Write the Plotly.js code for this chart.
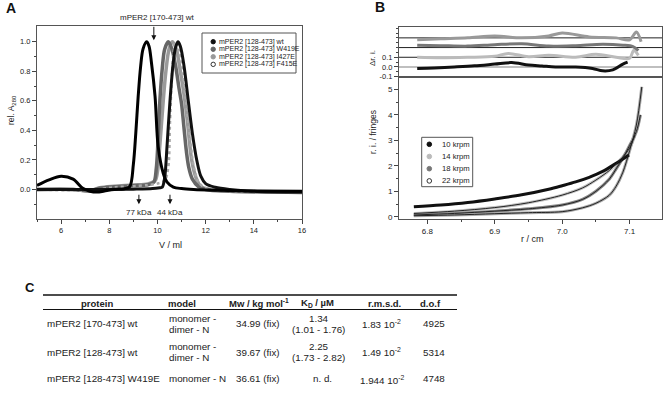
<!DOCTYPE html>
<html>
<head>
<meta charset="utf-8">
<script src="https://cdn.plot.ly/plotly-3.0.1.min.js"></script>
<style>html,body{margin:0;padding:0;background:#fff}</style>
</head>
<body>
<div id="chart" style="width:669px;height:415px"></div>
<script>
// A: SEC elution profiles (V / ml vs rel. A280)
var volWt170 = [5, 5.5, 6.0, 6.5, 6.9, 7.2, 7.5, 7.8, 8.2, 8.6, 8.85, 9.0, 9.1, 9.2, 9.3, 9.4, 9.55, 9.65, 9.75, 9.9, 10.03, 10.24, 10.4, 10.66, 11.0, 11.5, 12.5, 14, 16];
var absWt170 = [0.027, 0.065, 0.09, 0.07, 0.008, -0.012, -0.018, -0.01, 0.0, 0.003, 0.02, 0.17, 0.38, 0.63, 0.83, 0.95, 1.0, 0.97, 0.86, 0.63, 0.29, 0.11, 0.05, 0.016, 0.006, 0.0, -0.005, -0.01, -0.012];

var vol128wt = [5, 7, 8, 9, 9.8, 10.1, 10.2, 10.3, 10.4, 10.52, 10.65, 10.75, 10.85, 10.95, 11.1, 11.28, 11.45, 11.63, 11.8, 12.0, 12.4, 13, 14, 16];
var abs128wt = [0.0, 0.0, 0.0, 0.002, 0.006, 0.012, 0.015, 0.08, 0.3, 0.6, 0.85, 0.96, 1.0, 0.97, 0.84, 0.6, 0.38, 0.2, 0.09, 0.04, 0.015, 0.0, -0.012, -0.018];

var volW419E = [5, 6.5, 7.2, 7.6, 8.2, 9.0, 9.6, 9.85, 9.95, 10.02, 10.1, 10.2, 10.3, 10.45, 10.6, 10.75, 10.9, 11.0, 11.1, 11.2, 11.3, 11.45, 11.7, 12.0, 13, 16];
var absW419E = [0.0, 0.0, -0.01, 0.008, 0.018, 0.025, 0.032, 0.05, 0.14, 0.32, 0.6, 0.82, 0.95, 1.0, 0.95, 0.84, 0.68, 0.58, 0.42, 0.26, 0.15, 0.07, 0.02, 0.0, -0.012, -0.02];

var volI427E = [5, 6.5, 7.2, 7.6, 8.2, 9.0, 9.6, 9.9, 10.0, 10.1, 10.24, 10.35, 10.48, 10.62, 10.78, 10.95, 11.05, 11.14, 11.25, 11.42, 11.6, 11.8, 12.2, 13, 16];
var absI427E = [0.0, 0.0, -0.008, 0.012, 0.022, 0.03, 0.038, 0.06, 0.12, 0.3, 0.6, 0.8, 0.95, 1.0, 0.95, 0.8, 0.7, 0.6, 0.45, 0.2, 0.08, 0.02, 0.0, -0.01, -0.015];

var volF415E = [5, 7.2, 8.2, 9.0, 9.6, 10.0, 10.3, 10.45, 10.52, 10.58, 10.65, 10.75, 10.9, 11.05, 11.2, 11.35, 11.5, 11.7, 12.0, 13, 16];
var absF415E = [0.0, -0.005, 0.015, 0.022, 0.03, 0.04, 0.06, 0.15, 0.45, 0.7, 0.9, 1.0, 0.93, 0.78, 0.58, 0.35, 0.16, 0.05, 0.01, -0.01, -0.015];

var seriesA = ['mPER2 [128-473] wt', 'mPER2 [128-473] W419E', 'mPER2 [128-473] I427E', 'mPER2 [128-473] F415E'];
var standardVol = [9.23, 10.52];
var standardLabel = ['77 kDa', '44 kDa'];

// B: sedimentation equilibrium (r / cm vs fringes) and residuals
var speedsB = ['10 krpm', '14 krpm', '18 krpm', '22 krpm'];

var r10 = [6.78, 6.82, 6.86, 6.9, 6.94, 6.98, 7.0, 7.02, 7.04, 7.06, 7.08, 7.099];
var ri10 = [0.39, 0.46, 0.56, 0.70, 0.86, 1.08, 1.22, 1.37, 1.55, 1.78, 2.1, 2.43];
var r14 = [6.78, 6.84, 6.9, 6.95, 7.0, 7.03, 7.05, 7.07, 7.08, 7.09, 7.1, 7.108];
var ri14 = [0.13, 0.22, 0.36, 0.55, 0.85, 1.13, 1.44, 1.82, 2.08, 2.35, 2.7, 3.2];
var r18 = [6.78, 6.84, 6.9, 6.95, 7.0, 7.03, 7.05, 7.07, 7.08, 7.09, 7.1, 7.11, 7.116];
var ri18 = [0.07, 0.13, 0.22, 0.31, 0.46, 0.68, 1.0, 1.48, 1.88, 2.3, 2.8, 3.35, 4.0];
var r22 = [6.78, 6.84, 6.9, 6.95, 7.0, 7.03, 7.05, 7.07, 7.08, 7.09, 7.1, 7.11, 7.118];
var ri22 = [0.04, 0.07, 0.12, 0.16, 0.2, 0.35, 0.53, 0.85, 1.2, 1.75, 2.6, 3.6, 5.1];

var res10r = [6.785, 6.81, 6.84, 6.87, 6.9, 6.925, 6.95, 6.97, 6.99, 7.02, 7.045, 7.06, 7.075, 7.09, 7.097];
var res10 = [-0.015, -0.01, 0.0, 0.012, 0.03, 0.045, 0.02, 0.01, 0.0, 0.0, -0.015, -0.04, -0.03, 0.03, 0.05];
var res14r = [6.785, 6.82, 6.86, 6.9, 6.92, 6.95, 6.98, 7.02, 7.05, 7.08, 7.1, 7.106, 7.113];
var res14 = [0.1, 0.095, 0.1, 0.11, 0.14, 0.105, 0.12, 0.1, 0.13, 0.1, 0.09, 0.17, 0.12];
var res18r = [6.785, 6.82, 6.86, 6.9, 6.94, 6.98, 7.02, 7.06, 7.09, 7.105, 7.113];
var res18 = [0.225, 0.22, 0.215, 0.23, 0.24, 0.215, 0.22, 0.235, 0.225, 0.21, 0.17];
var res22r = [6.785, 6.82, 6.86, 6.9, 6.94, 6.98, 7.0, 7.04, 7.08, 7.1, 7.11, 7.117];
var res22 = [0.28, 0.29, 0.3, 0.32, 0.3, 0.32, 0.35, 0.31, 0.3, 0.28, 0.36, 0.26];
var residualLines = [0.1, 0.2, 0.3];

// C: table
var tableHeader = ['protein', 'model', 'Mw / kg mol<sup>-1</sup>', 'K<sub>D</sub> / µM', 'r.m.s.d.', 'd.o.f'];
var proteins = ['mPER2 [170-473] wt', 'mPER2 [128-473] wt', 'mPER2 [128-473] W419E'];
var modelLine1 = ['monomer -', 'monomer -', 'monomer - N'];
var modelLine2 = ['dimer - N', 'dimer - N', ''];
var mwValues = ['34.99 (fix)', '39.67 (fix)', '36.61 (fix)'];
var kdValues = ['1.34', '2.25', 'n. d.'];
var kdRanges = ['(1.01 - 1.76)', '(1.73 - 2.82)', ''];
var rmsdValues = ['1.83 10<sup>-2</sup>', '1.49 10<sup>-2</sup>', '1.944 10<sup>-2</sup>'];
var dofValues = ['4925', '5314', '4748'];

var W = 669, H = 415;
var FONT = 'Liberation Sans, Arial, sans-serif';
function px(x){ return x / W; }
function py(y){ return 1 - y / H; }

function curve(x, y, color, width, dash, xa, ya){
  return {x: x, y: y, mode: 'lines', xaxis: xa, yaxis: ya, hoverinfo: 'skip',
          line: {color: color, width: width, dash: dash || 'solid', shape: 'spline', smoothing: 0.9}};
}

var data = [
  curve(volI427E, absI427E, '#9a9a9a', 3.5, null, 'x', 'y'),
  curve(volW419E, absW419E, '#666', 3.5, null, 'x', 'y'),
  curve(volF415E, absF415E, '#aaa', 2.5, 'dot', 'x', 'y'),
  curve(vol128wt, abs128wt, '#111', 3, null, 'x', 'y'),
  curve(volWt170, absWt170, '#000', 3, null, 'x', 'y'),

  curve(res10r, res10, '#111', 3, null, 'x2', 'y2'),
  curve(res14r, res14, '#bbb', 3, null, 'x2', 'y2'),
  curve(res18r, res18, '#777', 3, null, 'x2', 'y2'),
  curve(res22r, res22, '#999', 3, null, 'x2', 'y2'),

  curve(r14, ri14, '#c0c0c0', 3, null, 'x3', 'y3'),
  curve(r18, ri18, '#888', 3, null, 'x3', 'y3'),
  curve(r22, ri22, '#aaa', 3, null, 'x3', 'y3'),
  curve(r10, ri10, '#111', 3, null, 'x3', 'y3'),
  curve(r14, ri14, '#222', 1, null, 'x3', 'y3'),
  curve(r18, ri18, '#222', 1, null, 'x3', 'y3'),
  curve(r22, ri22, '#222', 1, null, 'x3', 'y3')
];

var axisBase = {showline: true, mirror: true, linecolor: '#555', linewidth: 1, showgrid: false,
                zeroline: false, ticks: 'outside', ticklen: 4, tickcolor: '#444', tickfont: {size: 7.5}};
function ax(extra){ return Object.assign({}, axisBase, extra); }

var layout = {
  width: W, height: H, margin: {l: 0, r: 0, t: 0, b: 0},
  paper_bgcolor: '#fff', plot_bgcolor: '#fff', showlegend: false,
  font: {family: FONT, size: 8, color: '#222'},
  xaxis: ax({domain: [px(37), px(302)], range: [5, 16], anchor: 'y', tickvals: [6, 8, 10, 12, 14, 16],
             minor: {tickvals: [5, 7, 9, 11, 13, 15], ticks: 'outside', ticklen: 2, tickcolor: '#444'}}),
  yaxis: ax({domain: [py(219), py(26)], range: [-0.2, 1.107], anchor: 'x', tickvals: [0, 0.2, 0.4, 0.6, 0.8, 1.0],
             tickformat: '.1f', minor: {tickvals: [-0.1, 0.1, 0.3, 0.5, 0.7, 0.9], ticks: 'outside', ticklen: 2, tickcolor: '#444'}}),
  xaxis2: ax({domain: [px(399), px(662)], range: [6.758, 7.148], anchor: 'y2', ticks: '', showticklabels: false}),
  yaxis2: ax({domain: [py(76.7), py(26.7)], range: [-0.1, 0.415], anchor: 'x2', tickvals: [-0.1, 0, 0.1],
              ticktext: ['-0.1', '0.0', '0.1'],
              minor: {tickvals: [-0.05, 0.05, 0.15, 0.2, 0.25, 0.3, 0.35, 0.4], ticks: 'outside', ticklen: 2, tickcolor: '#444'}}),
  xaxis3: ax({domain: [px(399), px(662)], range: [6.758, 7.148], anchor: 'y3', tickvals: [6.8, 6.9, 7.0, 7.1],
              tickformat: '.1f', tickfont: {size: 8},
              minor: {tickvals: [6.85, 6.95, 7.05], ticks: 'outside', ticklen: 2, tickcolor: '#444'}}),
  yaxis3: ax({domain: [py(219.3), py(76.7)], range: [-0.1, 5.5], anchor: 'x3', tickvals: [0, 1, 2, 3, 4, 5],
              tickfont: {size: 8},
              minor: {tickvals: [0.5, 1.5, 2.5, 3.5, 4.5], ticks: 'outside', ticklen: 2, tickcolor: '#444'}}),
  shapes: [],
  annotations: []
};

// residual reference lines
residualLines.forEach(function(v){
  layout.shapes.push({type: 'line', xref: 'x2 domain', yref: 'y2', x0: 0, x1: 1, y0: v, y1: v,
                      line: {color: '#222', width: 1}, layer: 'below'});
});
layout.shapes.push({type: 'line', xref: 'x2 domain', yref: 'y2', x0: 0, x1: 1, y0: 0, y1: 0,
                    line: {color: '#aaa', width: 1.5}, layer: 'below'});

function note(x, y, text, size, extra){
  layout.annotations.push(Object.assign({x: px(x), y: py(y), xref: 'paper', yref: 'paper', text: text,
    xanchor: 'center', yanchor: 'middle', showarrow: false,
    font: {size: size, family: FONT, color: '#222'}}, extra || {}));
}

// panel letters and axis titles
var letterFont = {size: 14, family: FONT, color: '#111'};
note(11, 8, '<b>A</b>', 14, {font: letterFont});
note(380, 7, '<b>B</b>', 14, {font: letterFont});
note(30, 287, '<b>C</b>', 13, {font: {size: 13, family: FONT, color: '#111'}});
note(12, 110, 'rel. A<sub>280</sub>', 8.5, {textangle: -90});
note(170, 245, 'V / ml', 9);
note(373, 58, 'Δr. i.', 8, {textangle: -90});
note(373, 132, 'r. i. / fringes', 8.5, {textangle: -90});
note(532, 239, 'r / cm', 9);

// A annotations
note(157, 17, 'mPER2 [170-473] wt', 8);
layout.annotations.push({x: 9.85, y: 1.01, xref: 'x', yref: 'y', text: '', showarrow: true,
  ax: 0, ay: -15, arrowhead: 2, arrowsize: 1, arrowwidth: 1, arrowcolor: '#111'});
standardVol.forEach(function(v, i){
  layout.annotations.push({x: v, y: -0.1, xref: 'x', yref: 'y', text: '', showarrow: true,
    ax: 0, ay: -11, arrowhead: 2, arrowsize: 1, arrowwidth: 1, arrowcolor: '#111'});
  layout.annotations.push({x: v, y: py(212.3), xref: 'x', yref: 'paper', text: standardLabel[i],
    xanchor: 'center', yanchor: 'middle', showarrow: false, font: {size: 8, family: FONT, color: '#222'}});
});

// A legend
var legAColors = ['#111', '#666', '#999', '#fff'];
layout.shapes.push({type: 'rect', xref: 'paper', yref: 'paper', x0: px(202), x1: px(296), y0: py(73), y1: py(33),
                    line: {color: '#555', width: 1}, fillcolor: '#fff'});
seriesA.forEach(function(name, i){
  var yy = 41.7 + i * 7.55;
  layout.shapes.push({type: 'circle', xref: 'paper', yref: 'paper', x0: px(211), x1: px(215.4),
    y0: py(yy + 2.2), y1: py(yy - 2.2), fillcolor: legAColors[i], line: {color: i === 3 ? '#333' : legAColors[i], width: 1}});
  note(217, yy, name, 7, {xanchor: 'left'});
});

// B legend
var legBColors = ['#111', '#bbb', '#777', '#fff'];
layout.shapes.push({type: 'rect', xref: 'paper', yref: 'paper', x0: px(421.7), x1: px(472.7), y0: py(186.7), y1: py(137.3),
                    line: {color: '#555', width: 1}, fillcolor: '#fff'});
speedsB.forEach(function(name, i){
  var yy = 144.3 + i * 12.2;
  layout.shapes.push({type: 'circle', xref: 'paper', yref: 'paper', x0: px(427), x1: px(431.6),
    y0: py(yy + 2.3), y1: py(yy - 2.3), fillcolor: legBColors[i], line: {color: i === 3 ? '#333' : legBColors[i], width: 1}});
  note(440, yy, name, 7.7, {xanchor: 'left'});
});

// C table
layout.shapes.push({type: 'line', xref: 'paper', yref: 'paper', x0: px(43), x1: px(457), y0: py(295), y1: py(295),
                    line: {color: '#111', width: 1.5}});
layout.shapes.push({type: 'line', xref: 'paper', yref: 'paper', x0: px(43), x1: px(457), y0: py(309.5), y1: py(309.5),
                    line: {color: '#111', width: 1.2}});
var headerX = [97, 182.5, 259, 317.5, 384, 430];
tableHeader.forEach(function(t, i){ note(headerX[i], 303, '<b>' + t + '</b>', 9.5); });
var rowY = [323.5, 352, 378.5];
var tableSize = 9.8;
proteins.forEach(function(p, i){
  var y = rowY[i];
  var two = modelLine2[i] !== '';
  note(45, y, p, tableSize, {xanchor: 'left'});
  if (two) {
    note(167, y - 5.5, modelLine1[i], tableSize, {xanchor: 'left'});
    note(167, y + 5.5, modelLine2[i], tableSize, {xanchor: 'left'});
  } else {
    note(167, y, modelLine1[i], tableSize, {xanchor: 'left'});
  }
  note(258, y, mwValues[i], tableSize);
  if (kdRanges[i] !== '') {
    note(318.5, y - 5.5, kdValues[i], tableSize);
    note(318.5, y + 5.5, kdRanges[i], tableSize);
  } else {
    note(322, y, kdValues[i], tableSize);
  }
  note(382, y + (i === 2 ? 1.5 : 0), rmsdValues[i], tableSize);
  note(433.5, y, dofValues[i], tableSize);
});

Plotly.newPlot('chart', data, layout, {staticPlot: true, displayModeBar: false});
</script>
</body>
</html>
